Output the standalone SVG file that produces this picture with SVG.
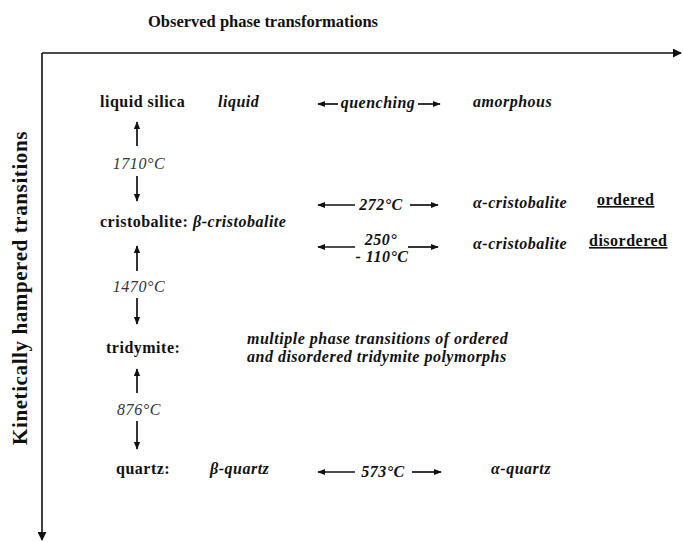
<svg xmlns="http://www.w3.org/2000/svg" width="683" height="542" viewBox="0 0 683 542">
<style>
text{font-family:"Liberation Serif","Times New Roman",serif;fill:#111}
.b{font-weight:bold;font-size:16px;letter-spacing:0.5px}
.bi{font-weight:bold;font-style:italic;font-size:16px;letter-spacing:0.5px}
.t{font-style:italic;font-size:16px;letter-spacing:0.6px;fill:#333}
.ti{font-weight:bold;font-style:italic;font-size:16px;letter-spacing:0.5px}
.ax{stroke:#111;stroke-width:1.6;fill:none}
.ar{stroke:#111;stroke-width:1.7;fill:none}
</style>
<defs>
<marker id="H" viewBox="0 0 10 10" refX="9" refY="5" markerWidth="9" markerHeight="9" orient="auto" markerUnits="userSpaceOnUse">
<path d="M0,0L10,5L0,10z" fill="#111"/>
</marker>
<marker id="s" viewBox="0 0 10 10" refX="9" refY="5" markerWidth="8" markerHeight="8" orient="auto-start-reverse" markerUnits="userSpaceOnUse">
<path d="M0,1L10,5L0,9z" fill="#111"/>
</marker>
</defs>
<g id="title"><text x="263" y="27" text-anchor="middle" style="font-weight:bold;font-size:16.5px">Observed phase transformations</text></g>
<g id="ylabel"><text transform="translate(27,288) rotate(-90)" text-anchor="middle" style="font-weight:bold;font-size:21px;letter-spacing:0.6px">Kinetically hampered transitions</text></g>
<g id="connectors">
<path class="ax" d="M42,53H681" marker-end="url(#H)"/>
<path class="ax" d="M42,53V540" marker-end="url(#H)"/>
<path class="ar" d="M137,146V122" marker-end="url(#s)"/>
<path class="ar" d="M137,176V201" marker-end="url(#s)"/>
<path class="ar" d="M137,271V246" marker-end="url(#s)"/>
<path class="ar" d="M137,298V324" marker-end="url(#s)"/>
<path class="ar" d="M137,393V369" marker-end="url(#s)"/>
<path class="ar" d="M137,421V449" marker-end="url(#s)"/>
<path class="ar" d="M338,104H318" marker-end="url(#s)"/>
<path class="ar" d="M418,104H440" marker-end="url(#s)"/>
<path class="ar" d="M355,205H318" marker-end="url(#s)"/>
<path class="ar" d="M410,205H438" marker-end="url(#s)"/>
<path class="ar" d="M355,247H318" marker-end="url(#s)"/>
<path class="ar" d="M408,247H438" marker-end="url(#s)"/>
<path class="ar" d="M355,472H318" marker-end="url(#s)"/>
<path class="ar" d="M412,472H441" marker-end="url(#s)"/>
</g>
<g id="liquid-silica"><text class="b" x="100" y="107">liquid silica</text><text class="bi" x="218" y="107">liquid</text></g>
<g id="quenching"><text class="bi" x="378" y="108" text-anchor="middle">quenching</text></g>
<g id="amorphous"><text class="bi" x="473" y="107">amorphous</text></g>
<g id="t1710"><text class="t" x="139" y="169" text-anchor="middle">1710°C</text></g>
<g id="cristobalite"><text class="b" x="100" y="227">cristobalite:</text><text class="bi" x="193" y="227">β-cristobalite</text></g>
<g id="t272"><text class="ti" x="381" y="210" text-anchor="middle">272°C</text></g>
<g id="a-cristo-ordered"><text class="bi" x="473" y="208">α-cristobalite</text><text class="b" x="597" y="205" text-decoration="underline">ordered</text></g>
<g id="t250"><text class="ti" x="381" y="245" text-anchor="middle">250°</text><text class="ti" x="382" y="262" text-anchor="middle">- 110°C</text></g>
<g id="a-cristo-disordered"><text class="bi" x="473" y="249">α-cristobalite</text><text class="b" x="589" y="246" text-decoration="underline">disordered</text></g>
<g id="t1470"><text class="t" x="139" y="292" text-anchor="middle">1470°C</text></g>
<g id="tridymite"><text class="b" x="106" y="353">tridymite:</text>
<text class="bi" x="247" y="344">multiple phase transitions of ordered</text>
<text class="bi" x="247" y="362">and disordered tridymite polymorphs</text></g>
<g id="t876"><text class="t" x="139" y="415" text-anchor="middle">876°C</text></g>
<g id="quartz"><text class="b" x="116" y="474">quartz:</text><text class="bi" x="210" y="474">β-quartz</text></g>
<g id="t573"><text class="ti" x="383" y="477" text-anchor="middle">573°C</text></g>
<g id="a-quartz"><text class="bi" x="491" y="474">α-quartz</text></g>
</svg>
